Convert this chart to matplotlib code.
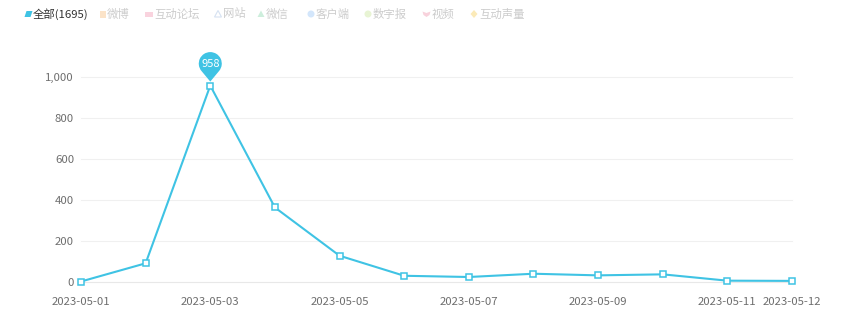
import numpy as np
import matplotlib
matplotlib.use("Agg")
import matplotlib.pyplot as plt
from matplotlib.path import Path
from matplotlib.patches import PathPatch, Rectangle, Polygon
from matplotlib.transforms import Affine2D, ScaledTranslation

plt.rcParams['font.family'] = ['Noto Sans CJK SC', 'DejaVu Sans']

# ---- data ----
dates = ["2023-05-01", "2023-05-02", "2023-05-03", "2023-05-04", "2023-05-05",
         "2023-05-06", "2023-05-07", "2023-05-08", "2023-05-09", "2023-05-10",
         "2023-05-11", "2023-05-12"]
values = [0, 89, 958, 362, 126, 28, 22, 38, 30, 35, 4, 3]
tick_dates = ["2023-05-01", "2023-05-03", "2023-05-05", "2023-05-07",
              "2023-05-09", "2023-05-11", "2023-05-12"]
y_ticks = [0, 200, 400, 600, 800, 1000]
legend_names = ["全部(1695)", "微博", "互动论坛", "网站", "微信", "客户端", "数字报", "视频", "互动声量"]
peak_label = "958"

LINE = '#3fc3e4'
W, H = 860, 320
fig = plt.figure(figsize=(W / 100, H / 100), dpi=100)
fig.patch.set_facecolor('white')
L, R, T, B = 81, 792, 77, 281.5
ax = fig.add_axes([L / W, 1 - B / H, (R - L) / W, (B - T) / H])

x = np.arange(len(dates))
ax.plot(x, values, color=LINE, lw=1.5, marker='s', ms=4.6, mfc='white',
        mec=LINE, mew=1.1, zorder=3, clip_on=False)

ax.set_xlim(0, len(dates) - 1)
ax.set_ylim(0, 1000)
for s in ax.spines.values():
    s.set_visible(False)
ax.set_yticks(y_ticks)
ax.set_yticklabels([f"{v:,}" for v in y_ticks])
for v in y_ticks:
    ax.axhline(v, color='#f0f0f0' if v else '#e8e8e8', lw=0.8, zorder=1, clip_on=False)
ax.set_xticks([dates.index(d) for d in tick_dates])
ax.set_xticklabels(tick_dates)
ax.tick_params(axis='both', length=0, labelsize=8.2, colors='#6e6e6e')
ax.tick_params(axis='y', pad=5)
ax.tick_params(axis='x', pad=11)

# ---- pin marker at the maximum ----
imax = int(np.argmax(values))
r, cy, ty = 11.5, 22.0, 4.0
d = cy - ty
th = np.degrees(np.arccos(r / d))
arc = Path.arc(-90 + th, 270 - th)
av = arc.vertices * r + np.array([0, cy])
codes = [Path.MOVETO, Path.LINETO] + list(arc.codes[1:]) + [Path.LINETO, Path.CLOSEPOLY]
verts = np.vstack([[0, ty], av[0], av[1:], [0, ty], [0, ty]])
pin = Path(verts, codes)
trans = Affine2D() + ScaledTranslation(imax, values[imax], ax.transData)
pp = PathPatch(pin, facecolor=LINE, edgecolor='none', transform=trans, zorder=5, clip_on=False)
ax.add_artist(pp)
ax.annotate(peak_label, (imax, values[imax]), xytext=(0, cy * 72 / 100),
            textcoords='offset points', ha='center', va='center',
            color='white', fontsize=8, zorder=6, annotation_clip=False)

# ---- legend (manual, pixel coordinates) ----
def px(xp, yp):
    return xp / W, 1 - yp / H

text_x = [33, 107, 154, 223, 266, 316, 373, 432, 479]
icon_col = [LINE, '#fbe3c8', '#f9d3de', '#d6e2f2', '#cdeedc', '#d3e6fb', '#e8f4d4', '#f8d2dc', '#fbeab8']
yc = 14
for i, (name, tx) in enumerate(zip(legend_names, text_x)):
    col = '#333333' if i == 0 else '#cccccc'
    fig.text(*px(tx, yc), name, fontsize=8.2, color=col, ha='left', va='center')
    c = icon_col[i]
    ix = tx - 8.5
    if i == 0:
        pts = [(ix, yc + 3), (ix + 6, yc + 3), (ix + 8, yc - 3), (ix + 2, yc - 3)]
        fig.patches.append(Polygon([px(*p) for p in pts], closed=True, fc=c, ec='none', transform=fig.transFigure))
    elif i == 1:
        fig.patches.append(Rectangle(px(ix + 1, yc + 3.5), 6 / W, 7 / H, fc=c, ec='none', transform=fig.transFigure))
    elif i == 2:
        fig.patches.append(Rectangle(px(ix - 1, yc + 2.5), 8 / W, 5 / H, fc=c, ec='none', transform=fig.transFigure))
    elif i in (3, 4):
        pts = [(ix, yc + 3), (ix + 7, yc + 3), (ix + 3.5, yc - 3.5)]
        if i == 3:
            fig.patches.append(Polygon([px(*p) for p in pts], closed=True, fc='none', ec=c, lw=0.8, transform=fig.transFigure))
        else:
            fig.patches.append(Polygon([px(*p) for p in pts], closed=True, fc=c, ec='none', transform=fig.transFigure))
    elif i in (5, 6):
        pts = [(ix + 3.5 + 3.5 * np.cos(a), yc + 3.5 * np.sin(a)) for a in np.linspace(0, 2 * np.pi, 30)]
        fig.patches.append(Polygon([px(*p) for p in pts], closed=True, fc=c, ec='none', transform=fig.transFigure))
    elif i == 7:
        pts = [(ix - 1, yc - 2.5), (ix + 3, yc - 1), (ix + 7, yc - 2.5), (ix + 6, yc + 1), (ix + 3, yc + 3), (ix, yc + 1)]
        fig.patches.append(Polygon([px(*p) for p in pts], closed=True, fc=c, ec='none', transform=fig.transFigure))
    else:
        pts = [(ix + 3.5, yc - 4), (ix + 7, yc), (ix + 3.5, yc + 4), (ix, yc)]
        fig.patches.append(Polygon([px(*p) for p in pts], closed=True, fc=c, ec='none', transform=fig.transFigure))

fig.savefig('out.png', dpi=100, facecolor='white')
